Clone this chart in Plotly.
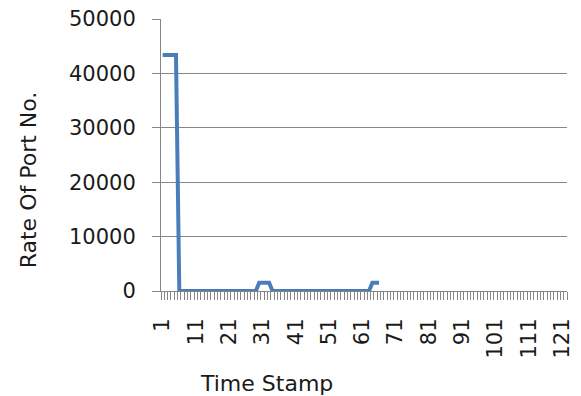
import plotly.graph_objects as go

# Time stamps of the recorded samples (categories on the x axis)
time_stamp = list(range(1, 67))

# Rate of port numbers per time stamp
port_rate = [
    43400, 43400, 43400, 43400, 43400, 0, 0, 0, 0, 0,
    0, 0, 0, 0, 0, 0, 0, 0, 0, 0,
    0, 0, 0, 0, 0, 0, 0, 0, 0, 1500,
    1500, 1500, 1500, 0, 0, 0, 0, 0, 0, 0,
    0, 0, 0, 0, 0, 0, 0, 0, 0, 0,
    0, 0, 0, 0, 0, 0, 0, 0, 0, 0,
    0, 0, 0, 1500, 1500, 1500,
]

# Category axis spans 122 slots, labelled every 10th
n_categories = 122
x_tick_values = list(range(1, n_categories + 1, 10))
x_tick_labels = [str(v) for v in x_tick_values]

y_tick_values = [0, 10000, 20000, 30000, 40000, 50000]
y_tick_labels = [str(v) for v in y_tick_values]

axis_gray = "#868686"
text_color = "#1a1a1a"
font_family = "DejaVu Sans"

fig = go.Figure()
fig.add_trace(go.Scatter(
    x=time_stamp,
    y=port_rate,
    mode="lines",
    line=dict(color="#4A7EBB", width=4),
    showlegend=False,
    hoverinfo="x+y",
))

fig.update_layout(
    width=581,
    height=396,
    margin=dict(l=161, r=7, t=19, b=105),
    paper_bgcolor="white",
    plot_bgcolor="white",
    font=dict(family=font_family, size=21, color=text_color),
    xaxis=dict(
        range=[0.5, n_categories + 0.5],
        tickmode="array",
        tickvals=x_tick_values,
        ticktext=x_tick_labels,
        tickangle=-90,
        ticks="outside",
        ticklen=0,
        ticklabelstandoff=18,
        showline=True,
        linecolor=axis_gray,
        linewidth=1,
        showgrid=False,
        zeroline=False,
        tickfont=dict(family=font_family, size=21, color=text_color),
        minor=dict(
            tickmode="linear",
            tick0=0.5,
            dtick=1,
            ticks="outside",
            ticklen=8,
            tickcolor=axis_gray,
            tickwidth=1,
            showgrid=False,
        ),
    ),
    yaxis=dict(
        range=[0, 50000],
        tickmode="array",
        tickvals=y_tick_values,
        ticktext=y_tick_labels,
        ticks="outside",
        ticklen=8,
        tickcolor=axis_gray,
        ticklabelstandoff=12,
        showline=True,
        linecolor=axis_gray,
        linewidth=1,
        showgrid=True,
        gridcolor=axis_gray,
        gridwidth=1,
        zeroline=False,
        tickfont=dict(family=font_family, size=21, color=text_color),
    ),
    annotations=[
        dict(
            text="Rate Of Port No.",
            x=26, y=180,
            xref="paper", yref="paper",
            showarrow=False,
            textangle=-90,
            font=dict(family=font_family, size=22, color=text_color),
        ),
        dict(
            text="Time Stamp",
            x=268, y=383,
            xref="paper", yref="paper",
            showarrow=False,
            font=dict(family=font_family, size=22, color=text_color),
        ),
    ],
)

# Position the axis titles in pixel coordinates of the page
plot_w = 581 - 161 - 7
plot_h = 396 - 19 - 105
for ann in fig.layout.annotations:
    px, py = ann.x, ann.y
    ann.x = (px - 161) / plot_w
    ann.y = 1 - (py - 19) / plot_h
    ann.xanchor = "center"
    ann.yanchor = "middle"

fig.write_html("out.html")
